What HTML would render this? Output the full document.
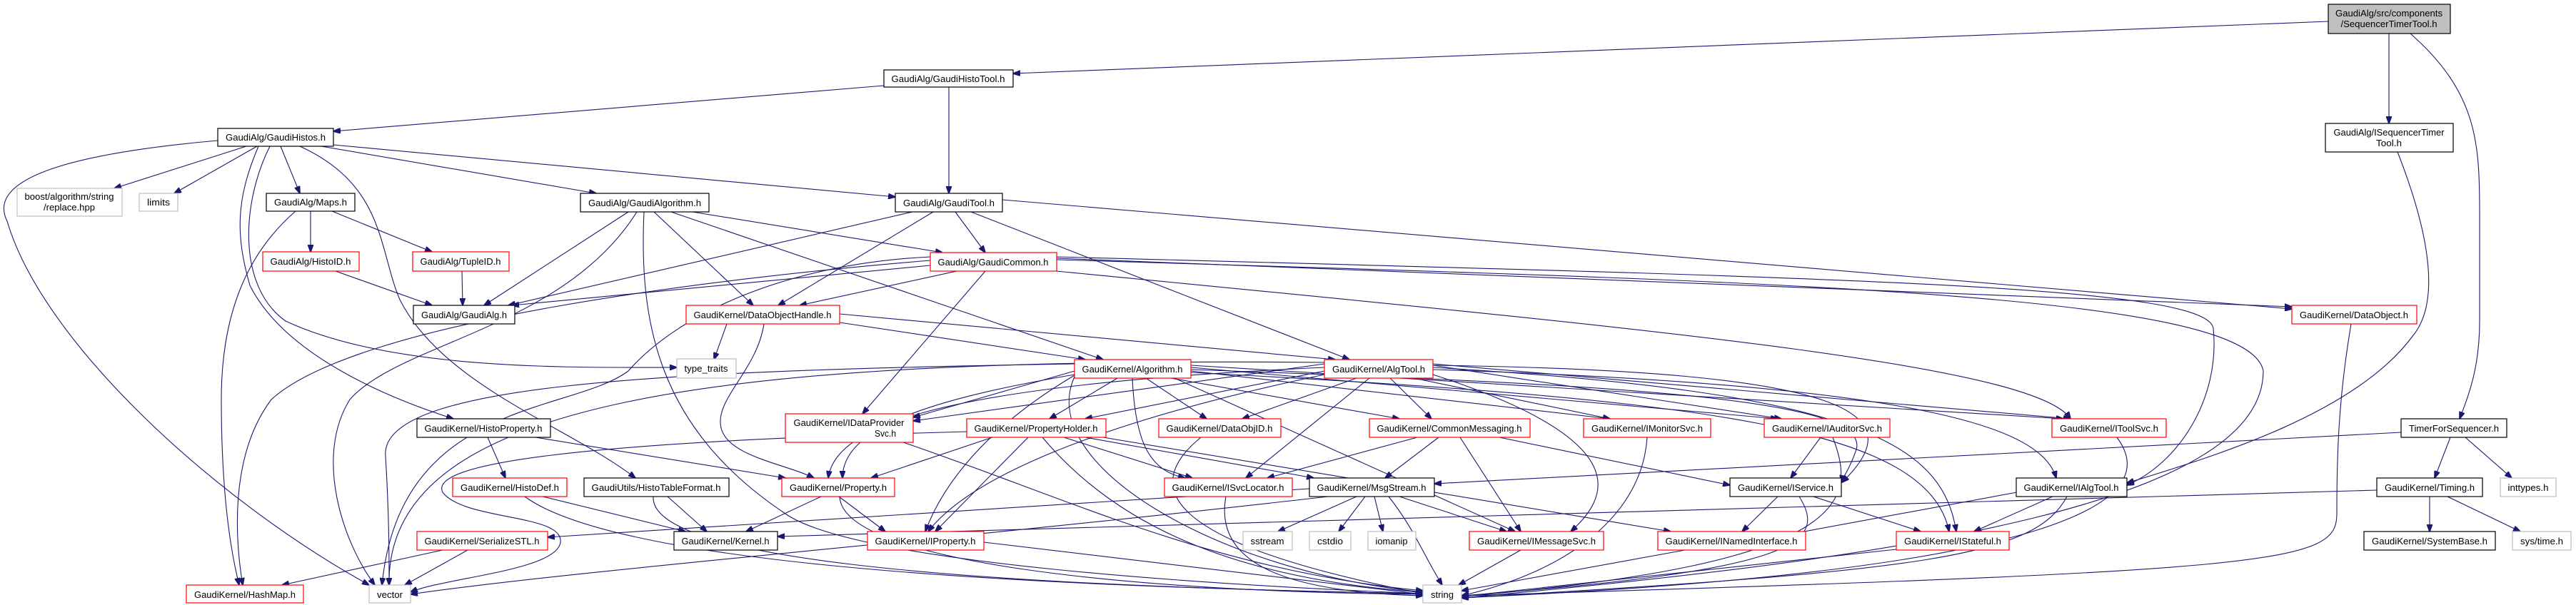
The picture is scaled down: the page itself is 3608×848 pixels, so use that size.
<!DOCTYPE html>
<html><head><meta charset="utf-8"><style>
html,body{margin:0;padding:0;background:#fff;}
svg{display:block;}
text{font-family:"Liberation Sans",sans-serif;font-size:13px;fill:#000;text-anchor:middle;}
.e{fill:none;stroke:#191970;stroke-width:1.1;marker-end:url(#a);}
.b{fill:#fff;stroke:#000;stroke-width:1.2;}
.r{fill:#fff;stroke:#ff0000;stroke-width:1.2;}
.g{fill:#fff;stroke:#bfbfbf;stroke-width:1.2;}
</style></head><body>
<svg width="3608" height="848" viewBox="0 0 3608 848" xmlns="http://www.w3.org/2000/svg">
<defs><marker id="a" markerWidth="11" markerHeight="8" refX="10" refY="4" orient="auto" markerUnits="userSpaceOnUse"><path d="M0,0 L11,4 L0,8 z" fill="#191970" stroke="#191970"/></marker></defs>
<g>
<path class="e" d="M3261,30 L1419,103"/>
<path class="e" d="M3346,47 L3346,173"/>
<path class="e" d="M3376,47 C3470,130 3473,200 3473,300 L3473,450 C3473,520 3455,560 3445,587"/>
<path class="e" d="M1238,120 L467,184"/>
<path class="e" d="M1329,122 L1329,271"/>
<path class="e" d="M3358,213 C3400,320 3420,420 3380,470 C3300,580 3100,640 2979,677"/>
<path class="e" d="M3432,613 L3410,670"/>
<path class="e" d="M3453,613 L3518,670"/>
<path class="e" d="M3363,606 L2009,678"/>
<path class="e" d="M3403,696 L3403,745"/>
<path class="e" d="M3428,696 L3530,745"/>
<path class="e" d="M3329,687 L1089,752"/>
<path class="e" d="M3293,454 C3275,560 3273,640 3273,720 C3273,790 3200,800 2047,835"/>
<path class="e" d="M345,205 L160,264"/>
<path class="e" d="M360,205 L244,271"/>
<path class="e" d="M393,205 L420,271"/>
<path class="e" d="M450,205 L835,271"/>
<path class="e" d="M467,203 L1254,276"/>
<path class="e" d="M305,197 C100,215 -20,250 10,310 C60,480 300,700 517,820"/>
<path class="e" d="M362,205 C330,280 330,330 350,400 C400,500 550,560 635,587"/>
<path class="e" d="M378,205 C340,280 330,400 400,450 C550,520 800,515 948,515"/>
<path class="e" d="M420,205 C540,260 530,350 560,420 C620,540 800,600 890,670"/>
<path class="e" d="M435,296 L435,353"/>
<path class="e" d="M465,296 L605,353"/>
<path class="e" d="M414,296 C340,360 310,450 310,560 C310,700 325,780 335,820"/>
<path class="e" d="M470,380 L605,428"/>
<path class="e" d="M647,380 L648,428"/>
<path class="e" d="M880,297 L678,428"/>
<path class="e" d="M892,297 C790,460 560,480 490,560 C440,640 480,760 525,820"/>
<path class="e" d="M916,297 L1055,428"/>
<path class="e" d="M940,297 L1545,504"/>
<path class="e" d="M970,297 L1320,354"/>
<path class="e" d="M902,297 C895,450 920,600 1100,720 C1200,790 1700,820 1993,832"/>
<path class="e" d="M1278,297 L712,428"/>
<path class="e" d="M1338,297 L1380,354"/>
<path class="e" d="M1307,297 L1090,428"/>
<path class="e" d="M1360,297 L1890,504"/>
<path class="e" d="M1404,280 L3210,433"/>
<path class="e" d="M1303,372 L717,428"/>
<path class="e" d="M1340,380 L1120,428"/>
<path class="e" d="M1303,365 C1000,390 500,450 380,560 C320,640 330,760 340,820"/>
<path class="e" d="M1303,360 C1100,370 950,440 880,520 C800,580 560,560 535,820"/>
<path class="e" d="M1380,380 L1208,580"/>
<path class="e" d="M1480,362 L3210,430"/>
<path class="e" d="M1480,360 C2600,390 3090,400 3100,460 C3110,560 3050,650 2979,680"/>
<path class="e" d="M1480,364 C2500,395 3150,410 3170,520 C3170,700 2700,780 2047,838"/>
<path class="e" d="M1480,380 C2300,460 2850,510 2900,587"/>
<path class="e" d="M1018,454 L1000,504"/>
<path class="e" d="M1176,452 L1520,504"/>
<path class="e" d="M1176,440 L1870,504"/>
<path class="e" d="M1070,454 C1060,520 1000,560 1010,600 C1020,640 1100,650 1140,670"/>
<path class="e" d="M1505,520 L1279,585"/>
<path class="e" d="M1565,530 L1470,587"/>
<path class="e" d="M1605,530 L1690,587"/>
<path class="e" d="M1640,530 L1960,587"/>
<path class="e" d="M1668,520 L2255,587"/>
<path class="e" d="M1668,515 L2490,587"/>
<path class="e" d="M1668,512 L2890,587"/>
<path class="e" d="M1668,518 C2300,540 2620,560 2600,630 C2590,660 2580,670 2579,676"/>
<path class="e" d="M1668,522 C2400,560 2700,600 2730,745"/>
<path class="e" d="M1586,530 C1590,620 1610,660 1660,670"/>
<path class="e" d="M1645,530 L2122,745"/>
<path class="e" d="M1505,525 C1300,560 1180,600 1180,670"/>
<path class="e" d="M1505,526 C1380,600 1320,680 1296,745"/>
<path class="e" d="M1505,510 C900,520 530,540 540,640 C545,720 545,780 545,820"/>
<path class="e" d="M1505,528 C1450,650 1700,800 1993,830"/>
<path class="e" d="M1855,510 L1279,590"/>
<path class="e" d="M1855,520 L1520,587"/>
<path class="e" d="M1900,530 L1740,587"/>
<path class="e" d="M1918,530 L1745,670"/>
<path class="e" d="M1947,530 L2005,587"/>
<path class="e" d="M1980,530 L2255,587"/>
<path class="e" d="M2007,512 L2495,587"/>
<path class="e" d="M2007,510 L2900,587"/>
<path class="e" d="M2007,518 C2700,540 2860,600 2880,670"/>
<path class="e" d="M2007,515 C2600,550 2720,620 2740,745"/>
<path class="e" d="M2007,512 C2600,520 2680,580 2580,676"/>
<path class="e" d="M2007,525 C2300,620 2250,700 2200,745"/>
<path class="e" d="M1855,515 C1300,540 1170,600 1160,670"/>
<path class="e" d="M1855,525 C1500,600 1350,680 1300,745"/>
<path class="e" d="M1855,508 C1000,500 540,560 545,820"/>
<path class="e" d="M1390,613 L1220,670"/>
<path class="e" d="M1440,613 L1310,745"/>
<path class="e" d="M1490,613 L1670,670"/>
<path class="e" d="M1520,613 L1840,670"/>
<path class="e" d="M1545,613 L2340,745"/>
<path class="e" d="M1460,613 C1550,720 1700,810 1993,830"/>
<path class="e" d="M1354,605 C800,620 600,650 620,690 C650,730 790,720 785,760 C780,800 620,810 575,830"/>
<path class="e" d="M1265,620 C1500,700 1700,800 1993,828"/>
<path class="e" d="M1682,613 C1600,680 1620,760 1993,832"/>
<path class="e" d="M1985,613 L1775,670"/>
<path class="e" d="M2015,613 L1940,670"/>
<path class="e" d="M2045,613 L2130,745"/>
<path class="e" d="M2100,613 L2423,680"/>
<path class="e" d="M2307,613 C2300,720 2200,800 2047,835"/>
<path class="e" d="M683,613 L708,670"/>
<path class="e" d="M750,613 L1100,670"/>
<path class="e" d="M760,696 L960,745"/>
<path class="e" d="M735,696 C850,780 1300,820 1993,832"/>
<path class="e" d="M935,696 L990,745"/>
<path class="e" d="M915,696 C910,780 1300,820 1993,832"/>
<path class="e" d="M1150,696 L1045,745"/>
<path class="e" d="M1175,696 L1240,745"/>
<path class="e" d="M1176,696 C1180,790 1600,830 1993,833"/>
<path class="e" d="M1834,685 L767,753"/>
<path class="e" d="M620,771 L395,820"/>
<path class="e" d="M655,771 L567,820"/>
<path class="e" d="M1717,696 C1700,790 1800,830 1993,835"/>
<path class="e" d="M1900,696 L1790,745"/>
<path class="e" d="M1912,696 L1875,745"/>
<path class="e" d="M1925,696 L1937,745"/>
<path class="e" d="M1960,696 L2110,745"/>
<path class="e" d="M1945,696 C1980,740 1995,780 2020,820"/>
<path class="e" d="M1860,696 C1300,760 800,800 575,833"/>
<path class="e" d="M1378,760 L1993,833"/>
<path class="e" d="M2130,771 L2043,820"/>
<path class="e" d="M2360,771 L2047,828"/>
<path class="e" d="M2490,696 L2440,745"/>
<path class="e" d="M2540,696 L2690,745"/>
<path class="e" d="M2520,696 C2560,760 2520,800 2047,835"/>
<path class="e" d="M2550,613 L2508,670"/>
<path class="e" d="M2567,613 C2600,700 2600,790 2047,836"/>
<path class="e" d="M2965,613 C3030,700 2900,800 2047,838"/>
<path class="e" d="M2875,696 L2765,745"/>
<path class="e" d="M2825,690 L2500,750"/>
<path class="e" d="M2895,696 C2850,780 2700,800 2047,838"/>
<path class="e" d="M2656,770 L2047,836"/>
</g>
<g>
<rect x="3261" y="6" width="171" height="41" fill="#bfbfbf" stroke="#000" stroke-width="1.2"/>
<text x="3346" y="23" textLength="150" lengthAdjust="spacingAndGlyphs">GaudiAlg/src/components</text>
<text x="3346" y="38" textLength="135" lengthAdjust="spacingAndGlyphs">/SequencerTimerTool.h</text>

<rect class="b" x="3257" y="173" width="179" height="40"/>
<text x="3346" y="190" textLength="155" lengthAdjust="spacingAndGlyphs">GaudiAlg/ISequencerTimer</text>
<text x="3346" y="205" textLength="36" lengthAdjust="spacingAndGlyphs">Tool.h</text>

<rect class="r" x="3210" y="428" width="175" height="26"/><text x="3297" y="446" textLength="152" lengthAdjust="spacingAndGlyphs">GaudiKernel/DataObject.h</text>
<rect class="b" x="3363" y="587" width="148" height="26"/><text x="3437" y="605" textLength="126" lengthAdjust="spacingAndGlyphs">TimerForSequencer.h</text>
<rect class="r" x="2471" y="587" width="176" height="26"/><text x="2559" y="605" textLength="154" lengthAdjust="spacingAndGlyphs">GaudiKernel/IAuditorSvc.h</text>
<rect class="r" x="2874" y="587" width="160" height="26"/><text x="2954" y="605" textLength="138" lengthAdjust="spacingAndGlyphs">GaudiKernel/IToolSvc.h</text>
<rect class="b" x="2423" y="670" width="156" height="26"/><text x="2501" y="688" textLength="134" lengthAdjust="spacingAndGlyphs">GaudiKernel/IService.h</text>
<rect class="b" x="2824" y="670" width="155" height="26"/><text x="2901" y="688" textLength="133" lengthAdjust="spacingAndGlyphs">GaudiKernel/IAlgTool.h</text>
<rect class="b" x="3329" y="670" width="148" height="26"/><text x="3403" y="688" textLength="126" lengthAdjust="spacingAndGlyphs">GaudiKernel/Timing.h</text>
<rect class="g" x="3502" y="670" width="78" height="26"/><text x="3541" y="688" textLength="57" lengthAdjust="spacingAndGlyphs">inttypes.h</text>
<rect class="r" x="2322" y="745" width="207" height="26"/><text x="2425" y="763" textLength="185" lengthAdjust="spacingAndGlyphs">GaudiKernel/INamedInterface.h</text>
<rect class="r" x="2656" y="745" width="158" height="26"/><text x="2735" y="763" textLength="136" lengthAdjust="spacingAndGlyphs">GaudiKernel/IStateful.h</text>
<rect class="b" x="3311" y="745" width="184" height="26"/><text x="3403" y="763" textLength="162" lengthAdjust="spacingAndGlyphs">GaudiKernel/SystemBase.h</text>
<rect class="g" x="3519" y="745" width="82" height="26"/><text x="3560" y="763" textLength="60" lengthAdjust="spacingAndGlyphs">sys/time.h</text>

<rect class="b" x="1238" y="98" width="181" height="24"/><text x="1328" y="115" textLength="159" lengthAdjust="spacingAndGlyphs">GaudiAlg/GaudiHistoTool.h</text>
<rect class="b" x="1254" y="271" width="150" height="26"/><text x="1329" y="289" textLength="128" lengthAdjust="spacingAndGlyphs">GaudiAlg/GaudiTool.h</text>
<rect class="r" x="1303" y="354" width="177" height="26"/><text x="1391" y="372" textLength="155" lengthAdjust="spacingAndGlyphs">GaudiAlg/GaudiCommon.h</text>
<rect class="r" x="1505" y="504" width="163" height="26"/><text x="1586" y="522" textLength="141" lengthAdjust="spacingAndGlyphs">GaudiKernel/Algorithm.h</text>
<rect class="r" x="1855" y="504" width="152" height="26"/><text x="1931" y="522" textLength="130" lengthAdjust="spacingAndGlyphs">GaudiKernel/AlgTool.h</text>
<rect class="r" x="1100" y="580" width="179" height="40"/>
<text x="1189" y="597" textLength="155" lengthAdjust="spacingAndGlyphs">GaudiKernel/IDataProvider</text>
<text x="1240" y="612" textLength="30" lengthAdjust="spacingAndGlyphs">Svc.h</text>
<rect class="r" x="1354" y="587" width="195" height="26"/><text x="1451" y="605" textLength="173" lengthAdjust="spacingAndGlyphs">GaudiKernel/PropertyHolder.h</text>
<rect class="r" x="1623" y="587" width="171" height="26"/><text x="1708" y="605" textLength="149" lengthAdjust="spacingAndGlyphs">GaudiKernel/DataObjID.h</text>
<rect class="r" x="1918" y="587" width="225" height="26"/><text x="2030" y="605" textLength="203" lengthAdjust="spacingAndGlyphs">GaudiKernel/CommonMessaging.h</text>
<rect class="r" x="2218" y="587" width="178" height="26"/><text x="2307" y="605" textLength="156" lengthAdjust="spacingAndGlyphs">GaudiKernel/IMonitorSvc.h</text>
<rect class="r" x="1095" y="670" width="158" height="26"/><text x="1174" y="688" textLength="136" lengthAdjust="spacingAndGlyphs">GaudiKernel/Property.h</text>
<rect class="r" x="1631" y="670" width="179" height="26"/><text x="1720" y="688" textLength="157" lengthAdjust="spacingAndGlyphs">GaudiKernel/ISvcLocator.h</text>
<rect class="b" x="1834" y="670" width="175" height="26"/><text x="1921" y="688" textLength="153" lengthAdjust="spacingAndGlyphs">GaudiKernel/MsgStream.h</text>
<rect class="r" x="1215" y="745" width="163" height="26"/><text x="1296" y="763" textLength="141" lengthAdjust="spacingAndGlyphs">GaudiKernel/IProperty.h</text>
<rect class="g" x="1741" y="745" width="69" height="26"/><text x="1775" y="763" textLength="47" lengthAdjust="spacingAndGlyphs">sstream</text>
<rect class="g" x="1834" y="745" width="58" height="26"/><text x="1863" y="763" textLength="36" lengthAdjust="spacingAndGlyphs">cstdio</text>
<rect class="g" x="1916" y="745" width="67" height="26"/><text x="1949" y="763" textLength="45" lengthAdjust="spacingAndGlyphs">iomanip</text>
<rect class="r" x="2058" y="745" width="188" height="26"/><text x="2152" y="763" textLength="166" lengthAdjust="spacingAndGlyphs">GaudiKernel/IMessageSvc.h</text>
<rect class="g" x="1993" y="820" width="54" height="25"/><text x="2020" y="838" textLength="32" lengthAdjust="spacingAndGlyphs">string</text>

<rect class="b" x="305" y="180" width="162" height="25"/><text x="386" y="197" textLength="140" lengthAdjust="spacingAndGlyphs">GaudiAlg/GaudiHistos.h</text>
<rect class="g" x="24" y="264" width="147" height="39"/>
<text x="97" y="280" textLength="125" lengthAdjust="spacingAndGlyphs">boost/algorithm/string</text>
<text x="97" y="295" textLength="72" lengthAdjust="spacingAndGlyphs">/replace.hpp</text>
<rect class="g" x="195" y="271" width="54" height="25"/><text x="222" y="288" textLength="32" lengthAdjust="spacingAndGlyphs">limits</text>
<rect class="b" x="373" y="271" width="124" height="25"/><text x="435" y="288" textLength="102" lengthAdjust="spacingAndGlyphs">GaudiAlg/Maps.h</text>
<rect class="b" x="813" y="271" width="180" height="26"/><text x="903" y="289" textLength="158" lengthAdjust="spacingAndGlyphs">GaudiAlg/GaudiAlgorithm.h</text>
<rect class="r" x="368" y="353" width="135" height="27"/><text x="435" y="371" textLength="113" lengthAdjust="spacingAndGlyphs">GaudiAlg/HistoID.h</text>
<rect class="r" x="578" y="353" width="135" height="27"/><text x="645" y="371" textLength="113" lengthAdjust="spacingAndGlyphs">GaudiAlg/TupleID.h</text>
<rect class="b" x="579" y="428" width="142" height="26"/><text x="650" y="446" textLength="120" lengthAdjust="spacingAndGlyphs">GaudiAlg/GaudiAlg.h</text>
<rect class="r" x="961" y="428" width="215" height="26"/><text x="1068" y="446" textLength="193" lengthAdjust="spacingAndGlyphs">GaudiKernel/DataObjectHandle.h</text>
<rect class="g" x="948" y="503" width="83" height="27"/><text x="989" y="521" textLength="61" lengthAdjust="spacingAndGlyphs">type_traits</text>
<rect class="b" x="584" y="587" width="187" height="26"/><text x="677" y="605" textLength="165" lengthAdjust="spacingAndGlyphs">GaudiKernel/HistoProperty.h</text>
<rect class="r" x="634" y="670" width="160" height="26"/><text x="714" y="688" textLength="138" lengthAdjust="spacingAndGlyphs">GaudiKernel/HistoDef.h</text>
<rect class="b" x="818" y="670" width="203" height="26"/><text x="919" y="688" textLength="181" lengthAdjust="spacingAndGlyphs">GaudiUtils/HistoTableFormat.h</text>
<rect class="r" x="584" y="745" width="183" height="26"/><text x="675" y="763" textLength="161" lengthAdjust="spacingAndGlyphs">GaudiKernel/SerializeSTL.h</text>
<rect class="b" x="944" y="745" width="145" height="26"/><text x="1016" y="763" textLength="123" lengthAdjust="spacingAndGlyphs">GaudiKernel/Kernel.h</text>
<rect class="r" x="261" y="820" width="164" height="25"/><text x="343" y="838" textLength="142" lengthAdjust="spacingAndGlyphs">GaudiKernel/HashMap.h</text>
<rect class="g" x="517" y="820" width="58" height="25"/><text x="546" y="838" textLength="36" lengthAdjust="spacingAndGlyphs">vector</text>
</g>
</svg>
</body></html>
